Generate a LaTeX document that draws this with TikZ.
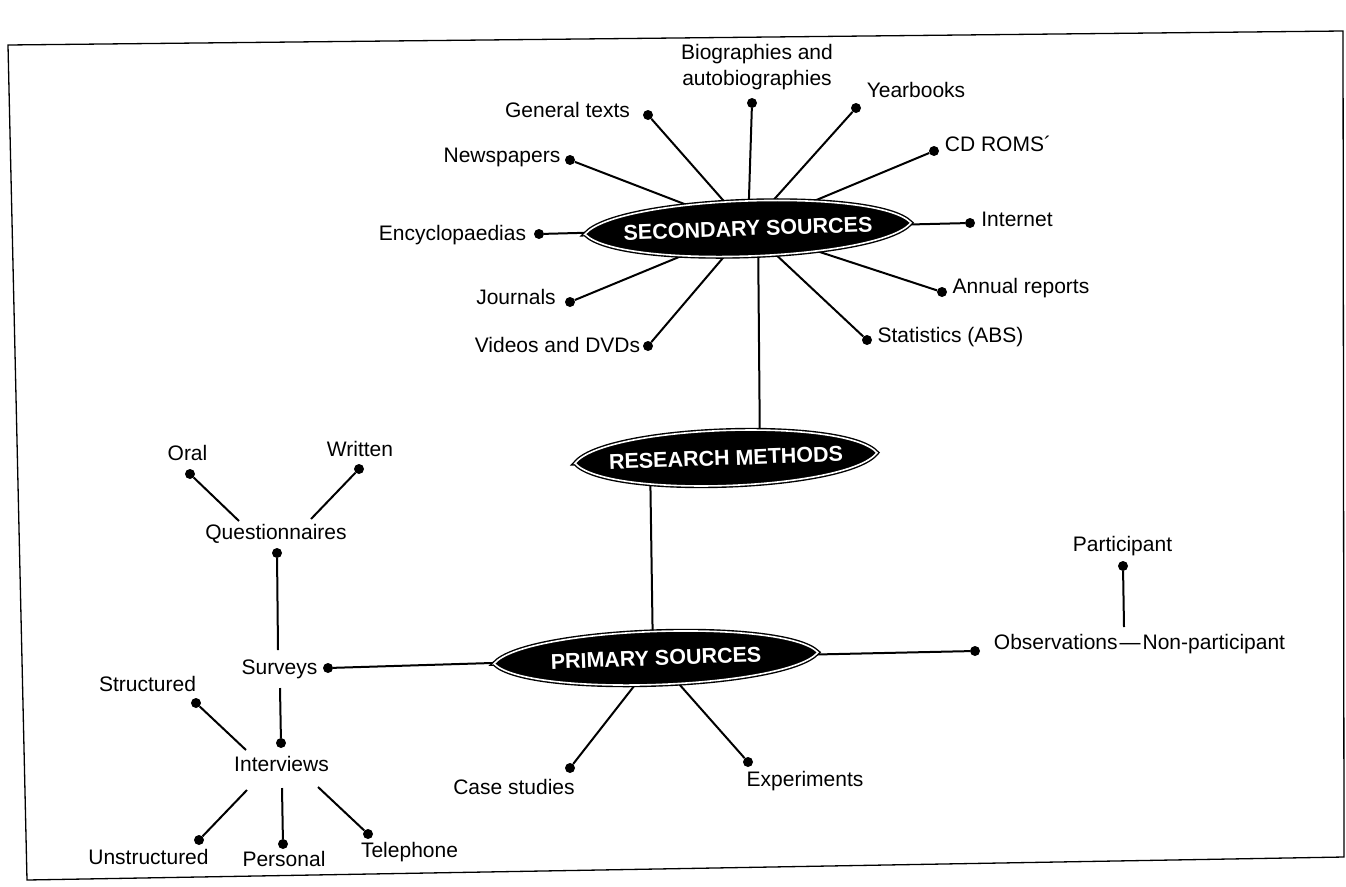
\documentclass[tikz,border=0pt]{standalone}
\usepackage{fontspec}
\setmainfont{Liberation Sans}
\usetikzlibrary{shapes.geometric,calc}
\pgfdeclarelayer{bg}
\pgfdeclarelayer{lenslayer}
\pgfsetlayers{bg,lenslayer,main}
\newcommand\lensat[4]{%
  \begin{scope}[shift={(#1,#2)},rotate=2]
    \filldraw[lensfill] (-#3,0) .. controls (-0.8*#3,-1.36*#4) and (0.8*#3,-1.36*#4) .. (#3,0)
      .. controls (0.8*#3,1.36*#4) and (-0.8*#3,1.36*#4) .. cycle;
  \end{scope}}
\begin{document}
\begin{tikzpicture}[x=1pt,y=-1pt,
  lbl/.style={font=\fontsize{21}{26}\selectfont, inner sep=0pt, anchor=mid},
  dot/.style={circle, fill=black, inner sep=0pt, minimum size=10pt},
  ell/.style={ellipse, inner sep=0pt, text=white, font=\fontsize{21.5}{25}\selectfont\bfseries, rotate=2},
  lensfill/.style={fill=black, draw=black, double=white, double distance=1.6pt, line width=1.4pt},
  conn/.style={line width=2pt, black},
  frame/.style={line width=1.3pt, black}]
\useasboundingbox (0,0) rectangle (1346,886);

% frame
\draw[frame] (8,45) -- (1343,31) -- (1344,857) -- (27,880) -- cycle;

% central ellipses
\node[ell] (sec) at (748,228.5) {SECONDARY SOURCES};
\node[ell] (res) at (726,458) {RESEARCH METHODS};
\node[ell] (prim) at (656,658) {PRIMARY SOURCES};
\begin{pgfonlayer}{lenslayer}
  \lensat{748}{228.5}{163}{27}
  \lensat{726}{458}{151}{27}
  \lensat{656}{658}{162}{26}
\end{pgfonlayer}

% secondary sources labels
\node[lbl] (tgen) at (567.5,115) {General texts};
\node[lbl, anchor=center, align=center, font=\fontsize{21}{26}\selectfont] (tbio) at (757,67) {Biographies and\\autobiographies};
\node[lbl] (tyear) at (916,95) {Yearbooks};
\node[lbl] (tcd) at (998,149) {CD ROMS´};
\node[lbl] (tinet) at (1017,224) {Internet};
\node[lbl] (tann) at (1021,291) {Annual reports};
\node[lbl] (tstat) at (950.5,340) {Statistics (ABS)};
\node[lbl] (tvid) at (557.5,350) {Videos and DVDs};
\node[lbl] (tjour) at (516,302) {Journals};
\node[lbl] (tency) at (452.5,238) {Encyclopaedias};
\node[lbl] (tnews) at (502,160) {Newspapers};

% secondary dots
\node[dot] (dgen) at (648,115) {};
\node[dot] (dbio) at (752,103) {};
\node[dot] (dyear) at (856,108) {};
\node[dot] (dcd) at (934,151) {};
\node[dot] (dinet) at (970,223) {};
\node[dot] (dann) at (942,292) {};
\node[dot] (dstat) at (867,340) {};
\node[dot] (dvid) at (648,346) {};
\node[dot] (djour) at (570,302) {};
\node[dot] (dency) at (539,234) {};
\node[dot] (dnews) at (570,160) {};

% primary sources labels
\node[lbl] (tsurv) at (279.5,672) {Surveys};
\node[lbl] (tobs) at (1139.5,647) {Observations\kern2pt—\kern2pt Non-participant};
\node[lbl] (tpart) at (1122.5,549) {Participant};
\node[lbl] (tcase) at (514,792) {Case studies};
\node[lbl] (texp) at (805,784) {Experiments};
\node[lbl] (tquest) at (276,537) {Questionnaires};
\node[lbl] (toral) at (187.5,458) {Oral};
\node[lbl] (twrit) at (360,454) {Written};
\node[lbl] (tintv) at (281.5,769) {Interviews};
\node[lbl] (tstruc) at (147.5,689) {Structured};
\node[lbl] (tunstr) at (148.5,862) {Unstructured};
\node[lbl] (tpers) at (284,864) {Personal};
\node[lbl] (ttel) at (409.5,855) {Telephone};

% primary dots
\node[dot] (dsurv) at (328,668) {};
\node[dot] (dobs) at (975,651) {};
\node[dot] (dpart) at (1123,566) {};
\node[dot] (dcase) at (570,768) {};
\node[dot] (dexp) at (748,762) {};
\node[dot] (dquest) at (277,553) {};
\node[dot] (doral) at (190,474) {};
\node[dot] (dwrit) at (359,469) {};
\node[dot] (dintv) at (281,743) {};
\node[dot] (dstruc) at (196,703) {};
\node[dot] (dunstr) at (199,840) {};
\node[dot] (dpers) at (283,844) {};
\node[dot] (dtel) at (368,834) {};

% free ends near texts
\coordinate (qOral) at (239,521);
\coordinate (qWrit) at (311,519);
\coordinate (sTop) at (278,650);
\coordinate (sBot) at (280,688);
\coordinate (iStruc) at (246,750);
\coordinate (iUnstr) at (247,790);
\coordinate (iPers) at (282,788);
\coordinate (iTel) at (318,787);
\coordinate (oTop) at (1124,627);

\begin{pgfonlayer}{bg}
  \foreach \d in {dgen,dbio,dyear,dcd,dinet,dann,dstat,dvid,djour,dency,dnews}
    \draw[conn] (\d) -- (sec.center);
  \draw[conn] ($(sec.center)+(10,0)$) -- ($(res.center)+(34,0)$);
  \draw[conn] ($(res.center)+(-76,0)$) -- ($(prim.center)+(-3,0)$);
  \foreach \d in {dsurv,dobs,dcase,dexp}
    \draw[conn] (\d) -- (prim.center);
  \draw[conn] (dpart) -- (oTop);
  \draw[conn] (doral) -- (qOral);
  \draw[conn] (dwrit) -- (qWrit);
  \draw[conn] (dquest) -- (sTop);
  \draw[conn] (sBot) -- (dintv);
  \draw[conn] (dstruc) -- (iStruc);
  \draw[conn] (dunstr) -- (iUnstr);
  \draw[conn] (dpers) -- (iPers);
  \draw[conn] (dtel) -- (iTel);
\end{pgfonlayer}
\end{tikzpicture}
\end{document}
